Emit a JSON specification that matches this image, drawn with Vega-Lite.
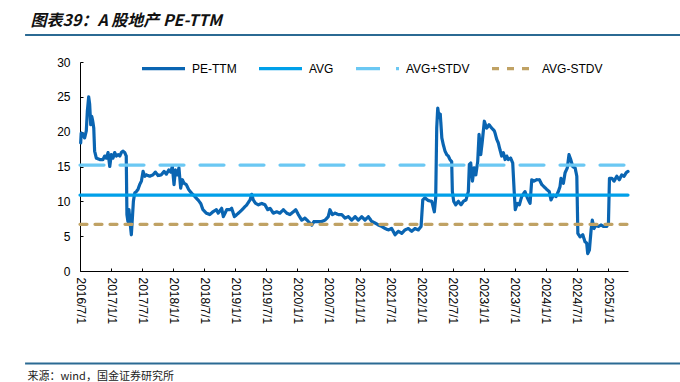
{
  "$schema": "https://vega.github.io/schema/vega-lite/v6.json",
  "autosize": "none",
  "width": 548,
  "height": 209,
  "padding": {"left": 80, "top": 62, "right": 52, "bottom": 111},
  "background": "white",
  "config": {"view": {"stroke": null}, "font": "Liberation Sans"},
  "resolve": {"axis": {"x": "independent", "y": "independent"}},
  "layer": [
    {
      "data": {"values": [
        {"series":"PE-TTM","date":"2016-07-05","value":18.4},
        {"series":"PE-TTM","date":"2016-07-08","value":19.8},
        {"series":"PE-TTM","date":"2016-07-18","value":19.6},
        {"series":"PE-TTM","date":"2016-07-28","value":19.1},
        {"series":"PE-TTM","date":"2016-08-07","value":20.1},
        {"series":"PE-TTM","date":"2016-08-13","value":22.9},
        {"series":"PE-TTM","date":"2016-08-21","value":25.0},
        {"series":"PE-TTM","date":"2016-08-27","value":23.9},
        {"series":"PE-TTM","date":"2016-09-02","value":21.0},
        {"series":"PE-TTM","date":"2016-09-08","value":22.2},
        {"series":"PE-TTM","date":"2016-09-14","value":21.5},
        {"series":"PE-TTM","date":"2016-09-20","value":20.5},
        {"series":"PE-TTM","date":"2016-09-25","value":17.2},
        {"series":"PE-TTM","date":"2016-10-05","value":16.2},
        {"series":"PE-TTM","date":"2016-10-25","value":16.0},
        {"series":"PE-TTM","date":"2016-11-13","value":16.0},
        {"series":"PE-TTM","date":"2016-11-23","value":16.5},
        {"series":"PE-TTM","date":"2016-12-03","value":16.2},
        {"series":"PE-TTM","date":"2016-12-13","value":17.0},
        {"series":"PE-TTM","date":"2016-12-23","value":15.0},
        {"series":"PE-TTM","date":"2017-01-01","value":16.7},
        {"series":"PE-TTM","date":"2017-01-11","value":16.2},
        {"series":"PE-TTM","date":"2017-01-21","value":17.0},
        {"series":"PE-TTM","date":"2017-01-31","value":16.5},
        {"series":"PE-TTM","date":"2017-02-10","value":16.7},
        {"series":"PE-TTM","date":"2017-02-20","value":16.5},
        {"series":"PE-TTM","date":"2017-03-01","value":17.0},
        {"series":"PE-TTM","date":"2017-03-11","value":17.2},
        {"series":"PE-TTM","date":"2017-03-21","value":17.0},
        {"series":"PE-TTM","date":"2017-03-30","value":16.5},
        {"series":"PE-TTM","date":"2017-04-03","value":8.1},
        {"series":"PE-TTM","date":"2017-04-09","value":7.1},
        {"series":"PE-TTM","date":"2017-04-15","value":8.8},
        {"series":"PE-TTM","date":"2017-04-23","value":6.6},
        {"series":"PE-TTM","date":"2017-04-29","value":5.2},
        {"series":"PE-TTM","date":"2017-05-05","value":7.6},
        {"series":"PE-TTM","date":"2017-05-11","value":10.0},
        {"series":"PE-TTM","date":"2017-05-19","value":11.2},
        {"series":"PE-TTM","date":"2017-05-28","value":11.4},
        {"series":"PE-TTM","date":"2017-06-07","value":11.7},
        {"series":"PE-TTM","date":"2017-06-17","value":12.4},
        {"series":"PE-TTM","date":"2017-06-27","value":12.9},
        {"series":"PE-TTM","date":"2017-07-07","value":14.3},
        {"series":"PE-TTM","date":"2017-07-17","value":13.6},
        {"series":"PE-TTM","date":"2017-07-26","value":13.8},
        {"series":"PE-TTM","date":"2017-08-15","value":13.6},
        {"series":"PE-TTM","date":"2017-09-03","value":13.8},
        {"series":"PE-TTM","date":"2017-09-17","value":14.2},
        {"series":"PE-TTM","date":"2017-10-03","value":13.7},
        {"series":"PE-TTM","date":"2017-10-22","value":13.8},
        {"series":"PE-TTM","date":"2017-11-07","value":14.3},
        {"series":"PE-TTM","date":"2017-11-21","value":13.9},
        {"series":"PE-TTM","date":"2017-12-05","value":14.5},
        {"series":"PE-TTM","date":"2017-12-17","value":14.2},
        {"series":"PE-TTM","date":"2017-12-26","value":15.0},
        {"series":"PE-TTM","date":"2018-01-05","value":12.4},
        {"series":"PE-TTM","date":"2018-01-13","value":14.5},
        {"series":"PE-TTM","date":"2018-01-24","value":13.8},
        {"series":"PE-TTM","date":"2018-02-03","value":14.8},
        {"series":"PE-TTM","date":"2018-02-13","value":11.9},
        {"series":"PE-TTM","date":"2018-02-23","value":13.1},
        {"series":"PE-TTM","date":"2018-03-05","value":12.6},
        {"series":"PE-TTM","date":"2018-03-18","value":12.4},
        {"series":"PE-TTM","date":"2018-04-01","value":11.7},
        {"series":"PE-TTM","date":"2018-04-17","value":11.2},
        {"series":"PE-TTM","date":"2018-05-07","value":10.7},
        {"series":"PE-TTM","date":"2018-05-26","value":10.2},
        {"series":"PE-TTM","date":"2018-06-11","value":9.7},
        {"series":"PE-TTM","date":"2018-06-24","value":8.8},
        {"series":"PE-TTM","date":"2018-07-14","value":8.3},
        {"series":"PE-TTM","date":"2018-08-03","value":8.1},
        {"series":"PE-TTM","date":"2018-08-22","value":8.5},
        {"series":"PE-TTM","date":"2018-09-11","value":8.8},
        {"series":"PE-TTM","date":"2018-09-22","value":8.3},
        {"series":"PE-TTM","date":"2018-10-12","value":9.0},
        {"series":"PE-TTM","date":"2018-10-22","value":7.8},
        {"series":"PE-TTM","date":"2018-11-11","value":8.8},
        {"series":"PE-TTM","date":"2018-11-30","value":8.8},
        {"series":"PE-TTM","date":"2018-12-10","value":9.0},
        {"series":"PE-TTM","date":"2018-12-26","value":7.8},
        {"series":"PE-TTM","date":"2019-01-09","value":8.1},
        {"series":"PE-TTM","date":"2019-01-28","value":8.5},
        {"series":"PE-TTM","date":"2019-02-17","value":9.0},
        {"series":"PE-TTM","date":"2019-03-09","value":9.5},
        {"series":"PE-TTM","date":"2019-03-28","value":10.2},
        {"series":"PE-TTM","date":"2019-04-07","value":11.0},
        {"series":"PE-TTM","date":"2019-04-16","value":10.2},
        {"series":"PE-TTM","date":"2019-04-30","value":9.7},
        {"series":"PE-TTM","date":"2019-05-16","value":9.5},
        {"series":"PE-TTM","date":"2019-06-05","value":9.7},
        {"series":"PE-TTM","date":"2019-06-24","value":9.5},
        {"series":"PE-TTM","date":"2019-07-10","value":8.8},
        {"series":"PE-TTM","date":"2019-07-24","value":9.0},
        {"series":"PE-TTM","date":"2019-08-12","value":8.3},
        {"series":"PE-TTM","date":"2019-09-01","value":8.5},
        {"series":"PE-TTM","date":"2019-09-20","value":8.3},
        {"series":"PE-TTM","date":"2019-10-10","value":8.8},
        {"series":"PE-TTM","date":"2019-10-30","value":8.3},
        {"series":"PE-TTM","date":"2019-11-18","value":8.1},
        {"series":"PE-TTM","date":"2019-12-08","value":8.5},
        {"series":"PE-TTM","date":"2019-12-22","value":8.8},
        {"series":"PE-TTM","date":"2020-01-06","value":8.1},
        {"series":"PE-TTM","date":"2020-01-26","value":7.3},
        {"series":"PE-TTM","date":"2020-02-14","value":7.6},
        {"series":"PE-TTM","date":"2020-03-05","value":7.1},
        {"series":"PE-TTM","date":"2020-03-25","value":6.6},
        {"series":"PE-TTM","date":"2020-04-07","value":7.1},
        {"series":"PE-TTM","date":"2020-05-03","value":7.1},
        {"series":"PE-TTM","date":"2020-05-23","value":7.1},
        {"series":"PE-TTM","date":"2020-06-11","value":7.3},
        {"series":"PE-TTM","date":"2020-06-30","value":7.8},
        {"series":"PE-TTM","date":"2020-07-10","value":8.8},
        {"series":"PE-TTM","date":"2020-07-24","value":8.1},
        {"series":"PE-TTM","date":"2020-08-09","value":8.3},
        {"series":"PE-TTM","date":"2020-08-28","value":8.1},
        {"series":"PE-TTM","date":"2020-09-17","value":8.1},
        {"series":"PE-TTM","date":"2020-10-07","value":7.6},
        {"series":"PE-TTM","date":"2020-10-26","value":7.8},
        {"series":"PE-TTM","date":"2020-11-15","value":7.3},
        {"series":"PE-TTM","date":"2020-12-05","value":7.8},
        {"series":"PE-TTM","date":"2020-12-24","value":7.3},
        {"series":"PE-TTM","date":"2021-01-13","value":7.8},
        {"series":"PE-TTM","date":"2021-02-01","value":7.3},
        {"series":"PE-TTM","date":"2021-02-21","value":7.8},
        {"series":"PE-TTM","date":"2021-03-13","value":7.1},
        {"series":"PE-TTM","date":"2021-04-01","value":6.9},
        {"series":"PE-TTM","date":"2021-04-21","value":6.6},
        {"series":"PE-TTM","date":"2021-05-11","value":6.4},
        {"series":"PE-TTM","date":"2021-05-30","value":6.1},
        {"series":"PE-TTM","date":"2021-06-18","value":5.9},
        {"series":"PE-TTM","date":"2021-07-08","value":6.1},
        {"series":"PE-TTM","date":"2021-07-28","value":5.2},
        {"series":"PE-TTM","date":"2021-08-16","value":5.7},
        {"series":"PE-TTM","date":"2021-09-05","value":5.4},
        {"series":"PE-TTM","date":"2021-09-25","value":5.9},
        {"series":"PE-TTM","date":"2021-10-14","value":6.1},
        {"series":"PE-TTM","date":"2021-11-03","value":5.7},
        {"series":"PE-TTM","date":"2021-11-22","value":6.1},
        {"series":"PE-TTM","date":"2021-12-12","value":5.9},
        {"series":"PE-TTM","date":"2021-12-28","value":6.4},
        {"series":"PE-TTM","date":"2022-01-07","value":10.2},
        {"series":"PE-TTM","date":"2022-01-20","value":10.5},
        {"series":"PE-TTM","date":"2022-02-09","value":10.1},
        {"series":"PE-TTM","date":"2022-03-01","value":10.0},
        {"series":"PE-TTM","date":"2022-03-16","value":8.5},
        {"series":"PE-TTM","date":"2022-03-24","value":10.5},
        {"series":"PE-TTM","date":"2022-03-30","value":20.5},
        {"series":"PE-TTM","date":"2022-04-05","value":23.4},
        {"series":"PE-TTM","date":"2022-04-13","value":22.0},
        {"series":"PE-TTM","date":"2022-04-20","value":22.5},
        {"series":"PE-TTM","date":"2022-04-29","value":19.1},
        {"series":"PE-TTM","date":"2022-05-08","value":18.1},
        {"series":"PE-TTM","date":"2022-05-18","value":17.2},
        {"series":"PE-TTM","date":"2022-05-28","value":16.7},
        {"series":"PE-TTM","date":"2022-06-06","value":16.5},
        {"series":"PE-TTM","date":"2022-06-16","value":16.0},
        {"series":"PE-TTM","date":"2022-06-26","value":15.7},
        {"series":"PE-TTM","date":"2022-06-30","value":11.4},
        {"series":"PE-TTM","date":"2022-07-08","value":10.0},
        {"series":"PE-TTM","date":"2022-07-20","value":9.5},
        {"series":"PE-TTM","date":"2022-08-04","value":10.0},
        {"series":"PE-TTM","date":"2022-08-20","value":9.5},
        {"series":"PE-TTM","date":"2022-09-03","value":10.0},
        {"series":"PE-TTM","date":"2022-09-18","value":10.2},
        {"series":"PE-TTM","date":"2022-10-02","value":11.4},
        {"series":"PE-TTM","date":"2022-10-08","value":15.3},
        {"series":"PE-TTM","date":"2022-10-16","value":15.5},
        {"series":"PE-TTM","date":"2022-10-26","value":12.9},
        {"series":"PE-TTM","date":"2022-11-05","value":14.8},
        {"series":"PE-TTM","date":"2022-11-15","value":13.8},
        {"series":"PE-TTM","date":"2022-11-26","value":15.7},
        {"series":"PE-TTM","date":"2022-12-04","value":19.6},
        {"series":"PE-TTM","date":"2022-12-14","value":16.7},
        {"series":"PE-TTM","date":"2022-12-23","value":18.6},
        {"series":"PE-TTM","date":"2023-01-04","value":21.5},
        {"series":"PE-TTM","date":"2023-01-18","value":20.5},
        {"series":"PE-TTM","date":"2023-02-01","value":21.0},
        {"series":"PE-TTM","date":"2023-02-17","value":20.5},
        {"series":"PE-TTM","date":"2023-03-04","value":20.1},
        {"series":"PE-TTM","date":"2023-03-08","value":19.8},
        {"series":"PE-TTM","date":"2023-03-18","value":18.9},
        {"series":"PE-TTM","date":"2023-03-27","value":18.4},
        {"series":"PE-TTM","date":"2023-04-06","value":17.4},
        {"series":"PE-TTM","date":"2023-04-16","value":16.5},
        {"series":"PE-TTM","date":"2023-04-26","value":17.0},
        {"series":"PE-TTM","date":"2023-05-06","value":16.0},
        {"series":"PE-TTM","date":"2023-05-16","value":16.5},
        {"series":"PE-TTM","date":"2023-05-25","value":16.0},
        {"series":"PE-TTM","date":"2023-06-08","value":16.2},
        {"series":"PE-TTM","date":"2023-06-20","value":15.5},
        {"series":"PE-TTM","date":"2023-06-28","value":11.7},
        {"series":"PE-TTM","date":"2023-07-05","value":8.8},
        {"series":"PE-TTM","date":"2023-07-17","value":9.7},
        {"series":"PE-TTM","date":"2023-07-29","value":9.5},
        {"series":"PE-TTM","date":"2023-08-12","value":10.7},
        {"series":"PE-TTM","date":"2023-08-31","value":11.4},
        {"series":"PE-TTM","date":"2023-09-14","value":10.5},
        {"series":"PE-TTM","date":"2023-09-30","value":9.7},
        {"series":"PE-TTM","date":"2023-10-10","value":13.1},
        {"series":"PE-TTM","date":"2023-10-23","value":12.9},
        {"series":"PE-TTM","date":"2023-11-08","value":13.1},
        {"series":"PE-TTM","date":"2023-11-24","value":13.1},
        {"series":"PE-TTM","date":"2023-12-08","value":12.4},
        {"series":"PE-TTM","date":"2023-12-21","value":12.1},
        {"series":"PE-TTM","date":"2024-01-06","value":11.7},
        {"series":"PE-TTM","date":"2024-01-21","value":11.4},
        {"series":"PE-TTM","date":"2024-01-31","value":10.2},
        {"series":"PE-TTM","date":"2024-02-14","value":10.9},
        {"series":"PE-TTM","date":"2024-03-01","value":10.7},
        {"series":"PE-TTM","date":"2024-03-14","value":11.4},
        {"series":"PE-TTM","date":"2024-03-24","value":12.1},
        {"series":"PE-TTM","date":"2024-03-30","value":13.3},
        {"series":"PE-TTM","date":"2024-04-13","value":12.6},
        {"series":"PE-TTM","date":"2024-04-23","value":14.1},
        {"series":"PE-TTM","date":"2024-05-06","value":14.8},
        {"series":"PE-TTM","date":"2024-05-16","value":16.7},
        {"series":"PE-TTM","date":"2024-05-26","value":16.0},
        {"series":"PE-TTM","date":"2024-06-07","value":15.0},
        {"series":"PE-TTM","date":"2024-06-21","value":14.8},
        {"series":"PE-TTM","date":"2024-07-01","value":13.6},
        {"series":"PE-TTM","date":"2024-07-07","value":5.4},
        {"series":"PE-TTM","date":"2024-07-20","value":4.9},
        {"series":"PE-TTM","date":"2024-08-05","value":5.2},
        {"series":"PE-TTM","date":"2024-08-18","value":4.2},
        {"series":"PE-TTM","date":"2024-08-28","value":4.0},
        {"series":"PE-TTM","date":"2024-09-03","value":2.5},
        {"series":"PE-TTM","date":"2024-09-13","value":3.0},
        {"series":"PE-TTM","date":"2024-09-23","value":5.9},
        {"series":"PE-TTM","date":"2024-09-30","value":7.3},
        {"series":"PE-TTM","date":"2024-10-10","value":6.1},
        {"series":"PE-TTM","date":"2024-10-22","value":6.6},
        {"series":"PE-TTM","date":"2024-11-05","value":6.4},
        {"series":"PE-TTM","date":"2024-11-21","value":6.6},
        {"series":"PE-TTM","date":"2024-12-04","value":6.4},
        {"series":"PE-TTM","date":"2024-12-24","value":6.4},
        {"series":"PE-TTM","date":"2025-01-03","value":6.9},
        {"series":"PE-TTM","date":"2025-01-09","value":13.3},
        {"series":"PE-TTM","date":"2025-01-23","value":13.3},
        {"series":"PE-TTM","date":"2025-02-05","value":12.9},
        {"series":"PE-TTM","date":"2025-02-21","value":13.6},
        {"series":"PE-TTM","date":"2025-03-08","value":13.1},
        {"series":"PE-TTM","date":"2025-03-22","value":13.8},
        {"series":"PE-TTM","date":"2025-04-05","value":13.6},
        {"series":"PE-TTM","date":"2025-04-17","value":14.1},
        {"series":"PE-TTM","date":"2025-04-28","value":14.3},
        {"series":"AVG","date":"2016-07-01","value":10.9},
        {"series":"AVG","date":"2025-04-28","value":10.9},
        {"series":"AVG+STDV","date":"2016-07-01","value":15.2},
        {"series":"AVG+STDV","date":"2025-04-28","value":15.2},
        {"series":"AVG-STDV","date":"2016-07-01","value":6.7},
        {"series":"AVG-STDV","date":"2025-04-28","value":6.7}
      ]},
      "mark": {"type": "line", "strokeWidth": 3.2, "strokeCap": "round", "strokeJoin": "round"},
      "encoding": {
        "x": {
          "field": "date", "type": "temporal",
          "scale": {"type": "utc", "domain": [{"year": 2016, "month": 7, "date": 1, "utc": true}, {"year": 2025, "month": 4, "date": 28, "utc": true}]},
          "axis": {
            "values": [
              {"year": 2016, "month": 7, "date": 1, "utc": true},
              {"year": 2017, "month": 1, "date": 1, "utc": true},
              {"year": 2017, "month": 7, "date": 1, "utc": true},
              {"year": 2018, "month": 1, "date": 1, "utc": true},
              {"year": 2018, "month": 7, "date": 1, "utc": true},
              {"year": 2019, "month": 1, "date": 1, "utc": true},
              {"year": 2019, "month": 7, "date": 1, "utc": true},
              {"year": 2020, "month": 1, "date": 1, "utc": true},
              {"year": 2020, "month": 7, "date": 1, "utc": true},
              {"year": 2021, "month": 1, "date": 1, "utc": true},
              {"year": 2021, "month": 7, "date": 1, "utc": true},
              {"year": 2022, "month": 1, "date": 1, "utc": true},
              {"year": 2022, "month": 7, "date": 1, "utc": true},
              {"year": 2023, "month": 1, "date": 1, "utc": true},
              {"year": 2023, "month": 7, "date": 1, "utc": true},
              {"year": 2024, "month": 1, "date": 1, "utc": true},
              {"year": 2024, "month": 7, "date": 1, "utc": true},
              {"year": 2025, "month": 1, "date": 1, "utc": true}
            ],
            "labelExpr": "utcFormat(datum.value, '%Y/%-m/%-d')",
            "labelAngle": 90, "labelAlign": "left", "labelBaseline": "middle",
            "labelFont": "Liberation Sans", "labelFontSize": 12, "labelColor": "#000000",
            "labelPadding": 9, "labelOverlap": false, "labelFlush": false,
            "tickSize": -3, "tickColor": "#000000", "tickWidth": 1,
            "domainColor": "#000000", "domainWidth": 1, "grid": false,
            "title": "来源：wind，国金证券研究所", "titleX": -53, "titleY": 105,
            "titleAlign": "left", "titleAnchor": "start", "titleBaseline": "middle", "titleAngle": 0,
            "titleFont": "Noto Sans CJK SC", "titleFontSize": 11, "titleFontWeight": "normal", "titleColor": "#222222"
          }
        },
        "y": {
          "field": "value", "type": "quantitative",
          "scale": {"domain": [0, 30], "nice": false, "zero": true},
          "axis": {
            "values": [0, 5, 10, 15, 20, 25, 30],
            "labelFont": "Liberation Sans", "labelFontSize": 12, "labelColor": "#000000",
            "labelPadding": 13, "tickSize": -3, "tickColor": "#000000",
            "domainColor": "#000000", "domainWidth": 1, "grid": false,
            "title": "图表39：A 股地产 PE-TTM", "titleX": -50, "titleY": -42, "titleAngle": 0,
            "titleAlign": "left", "titleBaseline": "middle", "titleAnchor": "start",
            "titleFont": "Noto Sans CJK SC", "titleFontSize": 16, "titleFontWeight": "bold", "titleFontStyle": "italic", "titleColor": "#111111"
          }
        },
        "color": {
          "field": "series", "type": "nominal",
          "scale": {"domain": ["PE-TTM", "AVG", "AVG+STDV", "AVG-STDV"], "range": ["#0A65B2", "#00A0E9", "#6BC8F3", "#C0A264"]},
          "legend": {
            "orient": "none", "legendX": 60, "legendY": -17, "direction": "horizontal", "title": null,
            "symbolType": "stroke", "symbolSize": 1849, "symbolStrokeWidth": 3.2,
            "labelFont": "Liberation Sans", "labelFontSize": 12, "labelColor": "#000000",
            "labelOffset": 5, "columnPadding": 15
          }
        },
        "strokeDash": {
          "field": "series", "type": "nominal",
          "scale": {"domain": ["PE-TTM", "AVG", "AVG+STDV", "AVG-STDV"], "range": [[1, 0], [1, 0], [24, 16], [7, 8]]},
          "legend": {
            "orient": "none", "legendX": 60, "legendY": -17, "direction": "horizontal", "title": null,
            "symbolType": "stroke", "symbolSize": 1849, "symbolStrokeWidth": 3.2,
            "labelFont": "Liberation Sans", "labelFontSize": 12, "labelColor": "#000000",
            "labelOffset": 5, "columnPadding": 15
          }
        }
      }
    },
    {
      "data": {"values": [{"value": 33.87}, {"value": -13.28}]},
      "mark": {"type": "rule", "color": "#2B6A93", "strokeWidth": 2, "clip": false},
      "encoding": {
        "y": {"field": "value", "type": "quantitative", "axis": null},
        "x": {"datum": {"year": 2015, "month": 8, "date": 13, "utc": true}, "type": "temporal", "axis": null},
        "x2": {"datum": {"year": 2026, "month": 3, "date": 5, "utc": true}}
      }
    }
  ]
}
